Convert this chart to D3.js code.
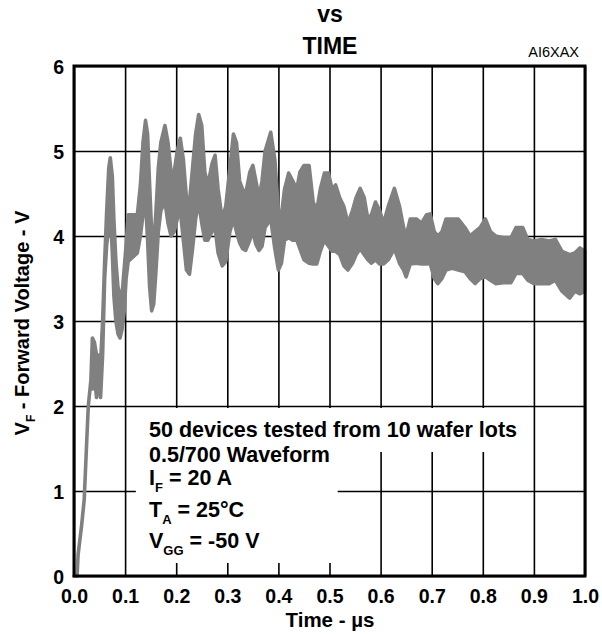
<!DOCTYPE html>
<html>
<head>
<meta charset="utf-8">
<script src="https://cdn.jsdelivr.net/npm/d3@7"></script>
<style>
  html, body { margin: 0; padding: 0; background: #fff; }
  svg { display: block; }
  text { font-family: "Liberation Sans", Arial, Helvetica, sans-serif; }
</style>
</head>
<body>
<svg id="chart" width="602" height="638"></svg>
<script>
// ---- data ----
const timeUs = [
  0.000, 0.006, 0.008, 0.015, 0.020, 0.025, 0.028, 0.033, 0.036, 0.040, 0.044, 0.048, 0.052,
  0.056, 0.060, 0.064, 0.068, 0.071, 0.075, 0.078, 0.082, 0.086, 0.090, 0.094, 0.098,
  0.102, 0.106, 0.115, 0.124, 0.130, 0.135, 0.140, 0.144, 0.148, 0.152, 0.156, 0.160,
  0.165, 0.170, 0.178, 0.184, 0.190, 0.196, 0.202, 0.208, 0.214, 0.220, 0.226, 0.232,
  0.238, 0.244, 0.250, 0.256, 0.262, 0.270, 0.276, 0.282, 0.290, 0.297, 0.305, 0.312,
  0.318, 0.324, 0.330, 0.336, 0.344, 0.350, 0.356, 0.362, 0.368, 0.374, 0.385, 0.393,
  0.400, 0.406, 0.412, 0.420, 0.428, 0.436, 0.442, 0.450, 0.460, 0.468, 0.475, 0.482,
  0.490, 0.498, 0.505, 0.512, 0.520, 0.528, 0.536, 0.545, 0.552, 0.560, 0.568, 0.575,
  0.582, 0.590, 0.598, 0.606, 0.615, 0.627, 0.637, 0.645, 0.650, 0.658, 0.670, 0.680,
  0.690, 0.697, 0.705, 0.712, 0.720, 0.728, 0.740, 0.752, 0.765, 0.775, 0.785, 0.795,
  0.805, 0.815, 0.825, 0.840, 0.855, 0.865, 0.878, 0.888, 0.900, 0.915, 0.930, 0.942,
  0.955, 0.970, 0.980, 0.990, 1.000
];
// upper envelope of the forward-voltage trace (V)
const vfUpper = [
  0.00, 0.00, 0.25, 0.60, 0.90, 1.60, 2.00, 2.30, 2.80, 2.75, 2.60, 2.60, 2.50,
  3.00, 3.70, 4.30, 4.80, 4.92, 4.70, 4.20, 3.70, 3.40, 3.30, 3.30, 3.60,
  3.90, 4.25, 4.25, 4.25, 4.60, 5.10, 5.36, 5.20, 4.60, 4.05, 3.90, 4.25,
  4.80, 5.10, 5.30, 5.10, 4.75, 4.75, 5.00, 5.15, 4.90, 4.45, 4.40, 4.80,
  5.20, 5.43, 5.30, 4.75, 4.60, 4.85, 4.95, 4.55, 4.20, 4.35, 4.80, 5.20,
  5.10, 4.65, 4.55, 4.50, 4.75, 4.83, 4.65, 4.45, 4.65, 5.00, 5.22, 4.90,
  4.30, 4.25, 4.55, 4.74, 4.65, 4.55, 4.75, 4.83, 4.83, 4.40, 4.30, 4.55,
  4.74, 4.74, 4.55, 4.60, 4.45, 4.35, 4.15, 4.30, 4.45, 4.56, 4.45, 4.20,
  4.25, 4.40, 4.30, 4.15, 4.35, 4.56, 4.35, 4.10, 4.00, 4.20, 4.20, 4.15,
  4.25, 4.26, 4.05, 4.00, 4.05, 4.20, 4.20, 4.20, 4.10, 4.00, 4.05, 4.10,
  4.20, 4.05, 4.00, 3.98, 3.98, 4.10, 4.10, 3.96, 3.94, 3.96, 3.94, 3.96,
  3.82, 3.78, 3.80, 3.86, 3.82
];
// lower envelope of the forward-voltage trace (V)
const vfLower = [
  0.00, 0.00, 0.25, 0.60, 0.90, 1.60, 2.00, 2.30, 2.20, 2.35, 2.10, 2.30, 2.10,
  2.60, 3.50, 3.90, 4.10, 4.30, 3.80, 3.30, 3.00, 2.85, 2.80, 2.90, 3.10,
  3.50, 3.70, 3.75, 3.80, 4.00, 4.25, 4.40, 3.95, 3.40, 3.12, 3.20, 3.55,
  4.05, 4.30, 4.40, 4.15, 4.00, 4.05, 4.20, 4.30, 3.95, 3.60, 3.55, 3.85,
  4.20, 4.40, 4.15, 3.95, 3.95, 4.05, 4.10, 3.80, 3.65, 3.70, 4.05, 4.20,
  4.05, 3.92, 3.85, 3.83, 3.95, 4.05, 3.90, 3.83, 3.88, 4.10, 4.20, 3.85,
  3.60, 3.68, 3.95, 3.98, 3.95, 3.95, 3.85, 3.72, 3.68, 3.67, 3.67, 3.82,
  3.95, 3.88, 3.82, 3.82, 3.78, 3.65, 3.60, 3.68, 3.78, 3.85, 3.78, 3.72,
  3.68, 3.72, 3.67, 3.67, 3.72, 3.85, 3.68, 3.60, 3.52, 3.67, 3.68, 3.67,
  3.67, 3.68, 3.50, 3.44, 3.50, 3.60, 3.62, 3.60, 3.58, 3.50, 3.44, 3.50,
  3.52, 3.48, 3.44, 3.45, 3.45, 3.56, 3.56, 3.48, 3.44, 3.44, 3.44, 3.48,
  3.35, 3.27, 3.35, 3.32, 3.35
];
const xTicks = [0, 0.1, 0.2, 0.3, 0.4, 0.5, 0.6, 0.7, 0.8, 0.9, 1.0];
const xTickLabels = ["0.0", "0.1", "0.2", "0.3", "0.4", "0.5", "0.6", "0.7", "0.8", "0.9", "1.0"];
const yTicks = [0, 1, 2, 3, 4, 5, 6];
const yTickLabels = ["0", "1", "2", "3", "4", "5", "6"];
const titleLines = ["vs", "TIME"];
const figureCode = "AI6XAX";
const xTitle = "Time - µs";
const noteLines = [
  [["50 devices tested from 10 wafer lots", false]],
  [["0.5/700 Waveform", false]],
  [["I", false], ["F", true], [" = 20 A", false]],
  [["T", false], ["A", true], [" = 25°C", false]],
  [["V", false], ["GG", true], [" = -50 V", false]]
];

// ---- drawing ----
const svg = d3.select("#chart");
const L = 74, R = 585, T = 66, B = 576;
const x = d3.scaleLinear().domain([0, 1]).range([L, R]);
const y = d3.scaleLinear().domain([0, 6]).range([B, T]);
const font = '"Liberation Sans", Arial, Helvetica, sans-serif';

// grid via axes
const gx = svg.append("g").attr("transform", `translate(0,${B})`)
  .call(d3.axisBottom(x).tickValues(xTicks).tickSize(-(B - T)).tickPadding(13)
    .tickFormat((d, i) => xTickLabels[i]));
const gy = svg.append("g").attr("transform", `translate(${L},0)`)
  .call(d3.axisLeft(y).tickValues(yTicks).tickSize(-(R - L)).tickPadding(10)
    .tickFormat((d, i) => yTickLabels[i]));
[gx, gy].forEach(g => {
  g.select(".domain").remove();
  g.selectAll(".tick line").attr("stroke", "#000").attr("stroke-width", 1.6);
  g.selectAll(".tick text").attr("fill", "#000").attr("font-family", font)
    .attr("font-size", 19.5).attr("font-weight", "bold");
});
gy.selectAll(".tick text").attr("dy", "0.36em");

// white background behind the note (hides the grid there)
const noteBg = svg.append("g");
noteBg.append("rect").attr("x", x(0.121)).attr("y", 408).attr("width", x(0.883) - x(0.121)).attr("height", 44).attr("fill", "#fff");
noteBg.append("rect").attr("x", x(0.121)).attr("y", 450).attr("width", x(0.516) - x(0.121)).attr("height", 113).attr("fill", "#fff");

// waveform band
const pts = timeUs.map((t, i) => ({ t, hi: vfUpper[i], lo: vfLower[i] }));
const area = d3.area().x(d => x(d.t)).y0(d => y(d.lo)).y1(d => y(d.hi));
svg.append("path").datum(pts).attr("d", area)
  .attr("fill", "#808080").attr("stroke", "#808080").attr("stroke-width", 3.6)
  .attr("stroke-linejoin", "round").attr("stroke-linecap", "round");

// plot border
svg.append("rect").attr("x", L).attr("y", T).attr("width", R - L).attr("height", B - T)
  .attr("fill", "none").attr("stroke", "#000").attr("stroke-width", 3);

// titles
svg.append("text").attr("x", 330).attr("y", 22).attr("text-anchor", "middle")
  .attr("font-size", 23).attr("font-weight", "bold").text(titleLines[0]);
svg.append("text").attr("x", 330).attr("y", 54).attr("text-anchor", "middle")
  .attr("font-size", 23).attr("font-weight", "bold").text(titleLines[1]);
svg.append("text").attr("x", 579).attr("y", 57).attr("text-anchor", "end")
  .attr("font-size", 14.5).text(figureCode);

// axis titles
svg.append("text").attr("x", 330).attr("y", 627).attr("text-anchor", "middle")
  .attr("font-size", 20.5).attr("font-weight", "bold").text(xTitle);
const yt = svg.append("text").attr("transform", "translate(29,323) rotate(-90)")
  .attr("text-anchor", "middle").attr("font-size", 20).attr("font-weight", "bold");
yt.append("tspan").text("V");
yt.append("tspan").attr("font-size", 12).attr("dy", 6).text("F");
yt.append("tspan").attr("dy", -6).text(" - Forward Voltage - V");

// note
const noteY = [437, 462, 485, 517, 548];
noteLines.forEach((parts, i) => {
  const t = svg.append("text").attr("x", 149).attr("y", noteY[i])
    .attr("font-size", 21.5).attr("font-weight", "bold");
  let sub = false;
  parts.forEach(([s, isSub]) => {
    const sp = t.append("tspan").text(s);
    if (isSub && !sub) { sp.attr("font-size", 13).attr("dy", 7); sub = true; }
    else if (!isSub && sub) { sp.attr("dy", -7); sub = false; }
  });
});
</script>
</body>
</html>
